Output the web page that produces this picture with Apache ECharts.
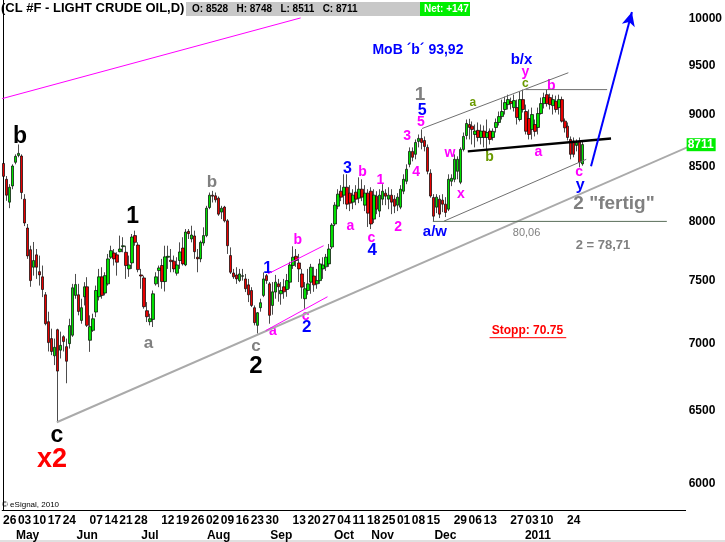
<!DOCTYPE html>
<html><head><meta charset="utf-8">
<script src="https://cdn.jsdelivr.net/npm/echarts@6/dist/echarts.min.js"></script>
<style>html,body{margin:0;padding:0;background:#fff}#c{width:725px;height:542px}</style>
</head><body><div id="c"></div>
<script>
// ---- data (prices x100, daily candles) ----
const opens  = [8532,8385,8177,8324,8543,8608,8602,8204,7948,7761,7613,7717,7576,7533,7386,7171,7039,6907,7108,6950,7054,6977,7000,7065,7381,7386,7181,7370,7451,7026,7103,7247,7370,7533,7400,7475,7697,7733,7717,7744,7787,7739,7599,7649,7882,7801,7549,7524,7258,7171,7189,7475,7585,7627,7494,7697,7672,7664,7563,7669,7775,7632,7919,7853,7879,7697,7683,7818,7882,8129,8240,8234,8213,8088,8133,8011,7711,7565,7549,7502,7537,7516,7467,7421,7282,7142,7282,7381,7543,7475,7300,7408,7475,7394,7451,7429,7489,7627,7705,7649,7557,7354,7421,7489,7540,7475,7502,7599,7616,7641,7784,7983,8141,8276,8240,8312,8258,8177,8267,8213,8294,8150,8258,8276,8026,8231,8097,8204,8258,8204,8240,8204,8150,8132,8276,8367,8524,8646,8618,8741,8770,8750,8684,8441,8219,8132,8204,8195,8159,8114,8367,8385,8459,8358,8665,8798,8905,8889,8808,8848,8779,8841,8779,8841,8779,8876,8925,8983,9053,9102,9132,9072,9072,8954,9152,9033,8964,8857,8905,8876,9013,9112,9202,9172,9092,9135,9072,9152,8938,8889,8760,8744,8703,8744,8528];
const closes = [8412,8240,8312,8508,8599,8627,8264,7992,7708,7502,7669,7613,7549,7429,7155,7008,6940,6972,6792,6987,7016,6866,7140,7443,7469,7252,7282,7451,7142,7132,7194,7421,7533,7381,7543,7683,7753,7683,7655,7767,7795,7627,7632,7870,7824,7593,7540,7290,7210,7194,7394,7533,7607,7494,7700,7705,7660,7599,7632,7742,7641,7913,7899,7887,7744,7683,7824,7882,8123,8240,8231,8198,8070,8123,8011,7795,7571,7533,7516,7557,7543,7435,7386,7300,7163,7242,7322,7516,7502,7221,7410,7489,7451,7421,7410,7502,7632,7697,7669,7599,7448,7435,7475,7613,7467,7502,7641,7632,7697,7767,7974,8150,8249,8222,8312,8159,8168,8240,8204,8294,8222,8258,8079,7983,8240,8114,8240,8276,8231,8240,8177,8141,8222,8294,8385,8478,8646,8590,8731,8770,8731,8693,8459,8232,8052,8222,8070,8159,8085,8385,8394,8571,8571,8665,8789,8915,8876,8857,8841,8779,8841,8779,8827,8760,8838,8925,8983,9033,9122,9152,9112,9142,8974,9152,9053,8839,8808,9003,8838,9013,9112,9172,9112,9102,9152,9053,9152,8938,8873,8779,8618,8618,8731,8543,8711];
const lows   = [8370,8189,8123,8294,8524,8590,8204,7965,7683,7451,7543,7516,7461,7367,7142,6940,6912,6837,6421,6887,6940,6702,6962,7052,7354,7221,7155,7300,7129,6937,7091,7207,7340,7354,7381,7461,7683,7627,7543,7739,7739,7516,7533,7599,7795,7571,7435,7274,7168,7142,7129,7461,7448,7435,7413,7599,7571,7571,7543,7599,7627,7622,7853,7824,7683,7571,7655,7795,7868,8114,8174,8174,8055,8026,7997,7725,7557,7516,7475,7489,7502,7408,7327,7287,7142,7078,7250,7367,7475,7155,7226,7354,7330,7306,7354,7370,7435,7599,7616,7490,7354,7274,7386,7394,7410,7435,7475,7516,7582,7616,7767,7965,8114,8186,8159,8114,8097,8114,8150,8168,8186,8097,7957,7939,7991,8070,8044,8150,8150,8114,8070,8079,8097,8114,8249,8340,8496,8552,8571,8684,8665,8646,8431,8217,8006,8079,8035,8088,8044,8097,8322,8358,8385,8340,8646,8760,8760,8712,8684,8741,8712,8684,8637,8712,8750,8827,8895,8954,9003,9053,9053,9033,8905,8935,9023,8808,8760,8760,8789,8808,9003,9063,9082,9053,9003,9023,9003,8925,8827,8750,8571,8590,8646,8496,8511];
const highs  = [8546,8415,8340,8524,8618,8712,8618,8249,7983,7795,7827,7767,7711,7627,7408,7250,7116,7039,7116,7093,7065,7039,7194,7475,7557,7475,7354,7489,7530,7221,7234,7461,7599,7613,7571,7725,7795,7767,7739,7882,7868,7795,7711,7896,7925,7824,7599,7543,7327,7234,7421,7571,7627,7683,7795,7795,7767,7711,7697,7824,7868,7939,7939,7968,7925,7767,7839,7954,8144,8264,8279,8264,8228,8144,8144,8026,7781,7599,7613,7599,7599,7557,7516,7448,7300,7247,7354,7570,7557,7490,7490,7549,7516,7490,7516,7557,7658,7790,7767,7725,7599,7490,7599,7641,7616,7599,7683,7697,7725,7810,7991,8177,8294,8331,8431,8431,8331,8294,8331,8403,8385,8331,8294,8312,8294,8276,8294,8340,8294,8312,8294,8240,8258,8331,8431,8524,8684,8684,8760,8808,8857,8789,8712,8478,8249,8249,8240,8249,8222,8431,8431,8618,8599,8684,8827,8954,8961,8935,8905,8925,8905,8895,8954,8867,8867,8964,9033,9152,9182,9202,9172,9202,9152,9232,9253,9102,9053,9072,8954,9072,9172,9222,9253,9212,9202,9192,9202,9182,8964,8925,8789,8779,8760,8779,8748];

const yTicks = [6000,6500,7000,7500,8000,8500,9000,9500,10000];
const weekLabels   = ['26','03','10','17','24','07','14','21','28','12','19','26','02','09','16','23','30','13','20','27','04','11','18','25','01','08','15','29','06','13','27','03','10','24'];
const weekLabelIdx = [2,7,12,17,22,31,36,41,46,55,60,65,70,75,80,85,90,99,104,109,114,119,124,129,134,139,144,153,158,163,172,177,182,191];
const monthLabels   = ['May','Jun','Jul','Aug','Sep','Oct','Nov','Dec','2011'];
const monthLabelIdx = [8,28,49,72,93,114,127,148,179];
const SLOTS = 229;
const lastClose = 8711;

// ---- annotations (anchored to bar index / price) ----
const BLUE='#0000ff', MAG='#ff00ff', GRAY='#808080', OLIVE='#6a9a00', RED='#ff0000', BLK='#000000';
const notes = [
 ['b',5.5,8789,BLK,23,'bold'],['1',43.2,8044,BLK,23,'bold'],['b',69.8,8358,GRAY,17,'bold'],
 ['a',48.5,7000,GRAY,17,'bold'],['c',84.5,6977,GRAY,17,'bold'],['2',84.5,6827,BLK,24,'bold'],
 ['c',17.8,6324,BLK,23,'bold'],['x2',16.2,6160,RED,27,'bold'],
 ['1',88.5,7599,BLUE,16,'bold'],['b',98.5,7845,MAG,14,'bold'],['a',90.2,7093,MAG,14,'bold'],
 ['c',101.2,7218,MAG,14,'bold'],['2',101.5,7124,BLUE,17,'bold'],['3',115.2,8487,BLUE,16,'bold'],
 ['b',120.2,8450,MAG,14,'bold'],['1',126.2,8376,MAG,14,'bold'],['a',116.2,7965,MAG,14,'bold'],
 ['c',123.2,7861,MAG,14,'bold'],['4',123.5,7753,BLUE,17,'bold'],['2',132.2,7957,MAG,14,'bold'],
 ['4',138.2,8450,MAG,14,'bold'],['3',135.2,8789,MAG,14,'bold'],['5',139.8,8925,MAG,14,'bold'],
 ['5',140.2,9043,BLUE,16,'bold'],['1',139.5,9202,GRAY,19,'bold'],['a/w',144.5,7913,BLUE,15,'bold'],
 ['w',149.5,8627,MAG,14,'bold'],['x',153.2,8249,MAG,14,'bold'],['a',157.2,9122,OLIVE,12,'bold'],
 ['b',162.8,8590,OLIVE,14,'bold'],['c',174.8,9313,OLIVE,12,'bold'],['y',174.8,9437,MAG,14,'bold'],
 ['b/x',173.5,9561,BLUE,15,'bold'],['b',183.5,9293,MAG,14,'bold'],['a',179.2,8637,MAG,14,'bold'],
 ['c',192.8,8450,MAG,14,'bold'],['y',193.2,8330,BLUE,16,'bold'],['2 "fertig"',204.5,8159,GRAY,19,'bold'],
 ['80,06',175.2,7904,GRAY,11,'normal'],['2 = 78,71',200.8,7795,GRAY,13,'bold'],
 ['MoB \u00b4b\u00b4 93,92',138.8,9667,BLUE,14,'bold'],['Stopp: 70.75',175.5,7101,RED,12,'bold']
];
const segs = [
 [-0.5,9162,99.5,10011,MAG,1],
 [17.8,6421,241.2,8837,'#aaaaaa',2],
 [88.5,7557,107.2,7795,MAG,1],
 [87.8,7101,108.5,7370,MAG,1],
 [155.5,8646,203.5,8770,BLK,2.5],
 [140.2,8866,189.2,9426,'#707070',1],
 [147.5,8008,195.2,8571,'#707070',1],
 [174.8,9253,202.2,9253,'#707070',1],
 [143.8,8006,222.2,8006,'#5a6e5a',1],
 [162.8,7046,188.5,7046,RED,1]
];
const arrow = [196.8,8506,210.5,10077];

const L = v => Math.log10(v);
const cats = Array.from({length:SLOTS},(_,i)=>{const k=weekLabelIdx.indexOf(i);return k>=0?weekLabels[k]:'';});
const mcats = Array.from({length:SLOTS},(_,i)=>{const k=monthLabelIdx.indexOf(i);return k>=0?monthLabels[k]:'';});
const candles = opens.map((o,i)=>[L(o),L(closes[i]),L(lows[i]),L(highs[i])]);
const FONT = 'Liberation Sans, Arial, sans-serif';
const CLEAR = 'rgba(0,0,0,0)';

const series = [{
  type:'candlestick', xAxisIndex:0, yAxisIndex:0, data:candles, barWidth:3,
  itemStyle:{color:'#00e000',color0:'#e80000',borderColor:'#000',borderColor0:'#000',borderWidth:0.7},
  markLine:{silent:true, symbol:['none','none'], data:[{yAxis:L(lastClose)}],
    lineStyle:{color:CLEAR, width:0},
    label:{show:true, position:'end', distance:1, formatter:String(lastClose), color:'#fff', fontWeight:'bold', fontSize:12, fontFamily:FONT,
      backgroundColor:'#00ee00', padding:[1,2,0,1]}}
}];
segs.forEach(s=>series.push({type:'line', xAxisIndex:2, yAxisIndex:0, clip:false, symbol:'none', silent:true,
  data:[[s[0],L(s[1])],[s[2],L(s[3])]], lineStyle:{color:s[4],width:s[5]}}));
series.push({type:'line', xAxisIndex:2, yAxisIndex:0, data:[], symbol:'none',
  markLine:{silent:true, symbol:['none','arrow'], symbolSize:[10,14],
    data:[[{coord:[arrow[0],L(arrow[1])]},{coord:[arrow[2],L(arrow[3])]}]],
    lineStyle:{color:BLUE,width:2,type:'solid'}, label:{show:false}}});
series.push({type:'scatter', xAxisIndex:2, yAxisIndex:0, clip:false, symbolSize:1, silent:true,
  itemStyle:{color:CLEAR, opacity:1},
  data:notes.map(n=>({name:n[0], value:[n[1],L(n[2])],
    label:{show:true, position:'inside', formatter:'{b}', color:n[3], opacity:1, fontSize:n[4], fontWeight:n[5], fontFamily:FONT}}))});

const chart = echarts.init(document.getElementById('c'), null, {renderer:'canvas'});
chart.setOption({
  animation:false, backgroundColor:'#fff',
  title:{text:'(CL #F - LIGHT CRUDE OIL,D)', left:0, top:0, padding:[2,0,0,1],
    textStyle:{fontSize:13, fontWeight:'bold', color:'#000', fontFamily:FONT}},
  grid:{left:0, top:0, width:687, height:512},
  xAxis:[
    {type:'category', data:cats, gridIndex:0, axisLine:{show:true,lineStyle:{color:'#000'}}, axisTick:{show:false},
     axisLabel:{interval:0, margin:5, color:'#000', fontSize:12, fontWeight:'bold', fontFamily:FONT}, splitLine:{show:false}},
    {type:'category', data:mcats, gridIndex:0, position:'bottom', offset:15, axisLine:{show:false}, axisTick:{show:false},
     axisLabel:{interval:0, margin:5, color:'#000', fontSize:12, fontWeight:'bold', fontFamily:FONT}},
    {type:'value', gridIndex:0, min:-0.5, max:SLOTS-0.5, show:false}
  ],
  yAxis:[{type:'value', position:'right', min:L(5831), max:L(10210),
    axisLine:{show:true,lineStyle:{color:'#000'}}, axisTick:{show:false}, splitLine:{show:false},
    axisLabel:{customValues:yTicks.map(L), formatter:v=>String(Math.round(Math.pow(10,v))), margin:3,
      color:'#000', fontSize:12, fontWeight:'bold', fontFamily:FONT}}],
  graphic:[
    {type:'rect', shape:{x:186,y:2,width:234,height:14}, style:{fill:'#c8c8c8'}},
    {type:'text', x:192, y:4, style:{text:'O: 8528   H: 8748   L: 8511   C: 8711', fill:'#000', font:'bold 10px '+FONT}},
    {type:'rect', shape:{x:420,y:2,width:50,height:14}, style:{fill:'#00ee00'}},
    {type:'text', x:424, y:4, style:{text:'Net: +147', fill:'#fff', font:'bold 10px '+FONT}},
    {type:'text', x:2, y:501, style:{text:'\u00a9 eSignal, 2010', fill:'#000', font:'8px '+FONT}},
    {type:'rect', shape:{x:0,y:540,width:725,height:2}, style:{fill:'#e0e0e0'}}
  ],
  series:series
});
</script></body></html>
